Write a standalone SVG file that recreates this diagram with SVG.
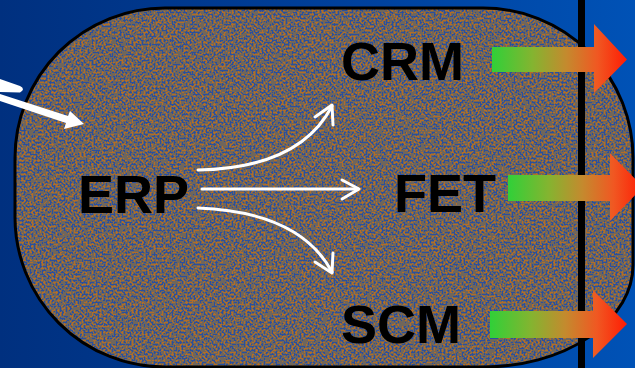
<svg xmlns="http://www.w3.org/2000/svg" width="635" height="368" viewBox="0 0 635 368">
  <defs>
    <linearGradient id="bg" x1="0" y1="0" x2="1" y2="0">
      <stop offset="0" stop-color="#00307f"/>
      <stop offset="0.6" stop-color="#00429e"/>
      <stop offset="1" stop-color="#0052b6"/>
    </linearGradient>
    <linearGradient id="flow" x1="0" y1="0" x2="1" y2="0">
      <stop offset="0" stop-color="#30d038"/>
      <stop offset="0.3" stop-color="#84b430"/>
      <stop offset="0.55" stop-color="#c48a2e"/>
      <stop offset="0.78" stop-color="#f05822"/>
      <stop offset="1" stop-color="#ff1c04"/>
    </linearGradient>
    <!-- granite speckle: noise mapped to blue / grey / orange pixels -->
    <filter id="granite" filterUnits="userSpaceOnUse" x="0" y="0" width="635" height="368" color-interpolation-filters="sRGB">
      <feTurbulence type="fractalNoise" baseFrequency="0.5" numOctaves="1" seed="7" result="noise"/>
      <feColorMatrix in="noise" type="matrix" values="1 0 0 0 0  1 0 0 0 0  1 0 0 0 0  0 0 0 0 1" result="grey"/>
      <feComponentTransfer in="grey" result="speck">
        <feFuncR type="discrete" tableValues="0.17 0.17 0.17 0.17 0.17 0.17 0.17 0.17 0.17 0.44 0.44 0.44 0.70 0.70 0.70 0.70 0.70 0.70 0.70 0.70"/>
        <feFuncG type="discrete" tableValues="0.31 0.31 0.31 0.31 0.31 0.31 0.31 0.31 0.31 0.40 0.40 0.40 0.43 0.43 0.43 0.43 0.43 0.43 0.43 0.43"/>
        <feFuncB type="discrete" tableValues="0.62 0.62 0.62 0.62 0.62 0.62 0.62 0.62 0.62 0.36 0.36 0.36 0.16 0.16 0.16 0.16 0.16 0.16 0.16 0.16"/>
      </feComponentTransfer>
      <feComposite in="speck" in2="SourceGraphic" operator="in"/>
    </filter>
    <style>
      .label { font-family: "Liberation Sans", Arial, sans-serif; font-weight: bold; font-size: 54px; fill: #000; }
      .flow { fill: url(#flow); }
      .wire { fill: none; stroke: #fff; stroke-width: 3; stroke-linecap: round; stroke-linejoin: round; }
    </style>
  </defs>

  <!-- backdrop -->
  <rect x="0" y="0" width="635" height="368" fill="url(#bg)"/>

  <!-- enterprise boundary -->
  <g id="boundary">
    <path d="M165,8 H483 A150,150 0 0 1 633,158 V265 A150,102 0 0 1 483,367 H165 A150,150 0 0 1 15,217 V158 A150,150 0 0 1 165,8 Z" fill="#6e5c4a" filter="url(#granite)"/>
    <path d="M165,8 H483 A150,150 0 0 1 633,158 V265 A150,102 0 0 1 483,367 H165 A150,150 0 0 1 15,217 V158 A150,150 0 0 1 165,8 Z" fill="none" stroke="#000" stroke-width="3"/>
    <rect x="578" y="0" width="7" height="368" fill="#000"/>
  </g>

  <!-- modules -->
  <g id="erp"><text class="label" x="78" y="213">ERP</text></g>
  <g id="crm"><text class="label" x="341" y="80">CRM</text></g>
  <g id="fet"><text class="label" x="394" y="212">FET</text></g>
  <g id="scm"><text class="label" x="341" y="343">SCM</text></g>

  <!-- connectors -->
  <g id="connectors">
    <!-- incoming feed -->
    <path d="M0,79 L20,86 Q26,89 20,92.5 L0,92 Z" fill="#fff"/>
    <path d="M0,94 L68,116 L70,111 L84,124 L64,129 L66,123 L0,101 Z" fill="#fff"/>
    <!-- ERP fan-out -->
    <path class="wire" d="M198,170 Q300,168 332,106"/>
    <polyline class="wire" points="315,117 332,105 333,125"/>
    <path class="wire" d="M202,189 H358"/>
    <polyline class="wire" points="342,180 359,189 342,199"/>
    <path class="wire" d="M198,208 Q300,212 332,272"/>
    <polyline class="wire" points="315,262 332,273 333,253"/>
    <!-- outbound flows -->
    <polygon class="flow" points="492,47 594,47 594,24 627,59.5 594,93 594,72 492,72"/>
    <polygon class="flow" points="508,175 610,175 610,153 643,187 610,221 610,201 508,201"/>
    <polygon class="flow" points="490,311 593,311 593,290 627,324 593,358 593,338 490,338"/>
  </g>
</svg>
